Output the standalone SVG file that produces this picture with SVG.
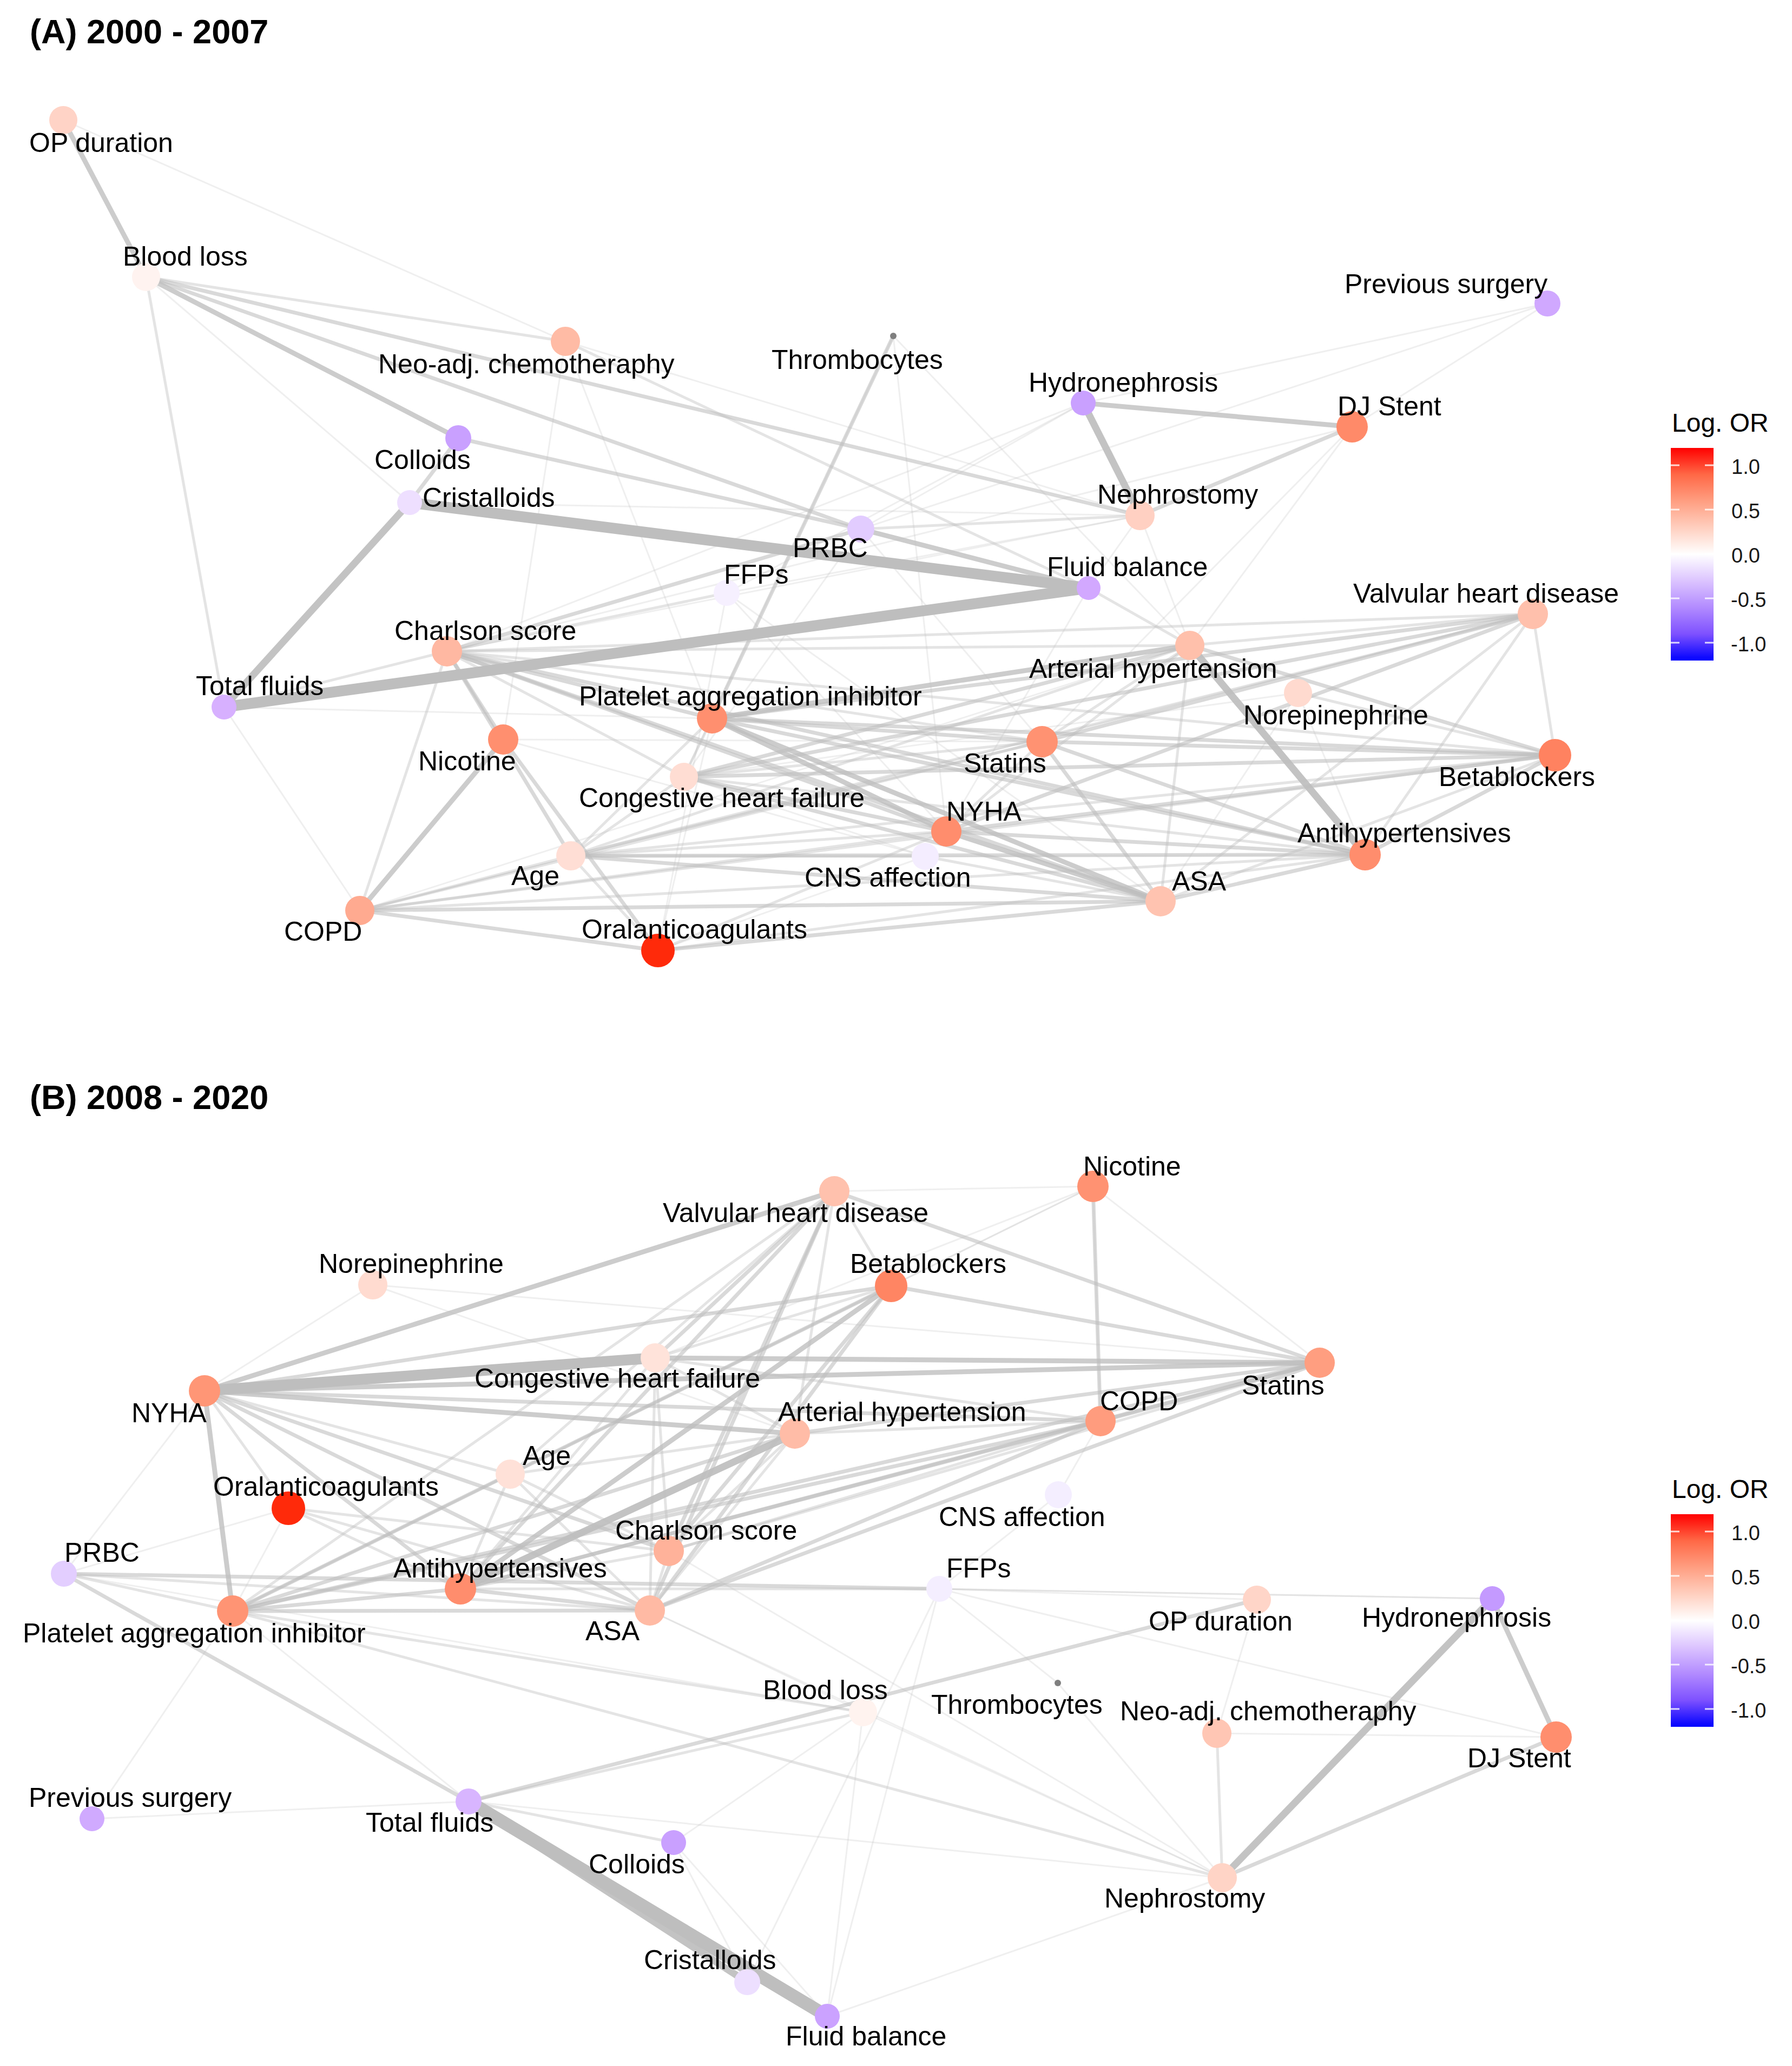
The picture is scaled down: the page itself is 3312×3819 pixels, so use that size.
<svg xmlns="http://www.w3.org/2000/svg" width="3312" height="3819" viewBox="0 0 3312 3819">
<style>
text{font-family:"Liberation Sans",Arial,sans-serif;fill:#000}
.lbl{font-size:50px}
.ttl{font-size:63px;font-weight:bold}
.lgt{font-size:48px}
.tick{font-size:38px;fill:#1a1a1a}
line{stroke:#BEBEBE;fill:none}
.e1{stroke-opacity:.24;stroke-width:3}
.e2{stroke-opacity:.42;stroke-width:5}
.e3{stroke-opacity:.58;stroke-width:7}
.e4{stroke-opacity:.78;stroke-width:9}
.e5{stroke-opacity:.92;stroke-width:13}
.e6{stroke-opacity:1;stroke-width:20}
.e7{stroke-opacity:1;stroke-width:24}
.tk{stroke:#fff;stroke-width:3;stroke-opacity:.8}
</style>
<defs>
<linearGradient id="cbar" x1="0" y1="0" x2="0" y2="1">
<stop offset="0" stop-color="#FF0000"/>
<stop offset="0.125" stop-color="#FF6846"/>
<stop offset="0.25" stop-color="#FF9E81"/>
<stop offset="0.375" stop-color="#FFCFBF"/>
<stop offset="0.5" stop-color="#FFFFFF"/>
<stop offset="0.625" stop-color="#DCC4FF"/>
<stop offset="0.75" stop-color="#B28BFF"/>
<stop offset="0.875" stop-color="#7E51FF"/>
<stop offset="1" stop-color="#0000FF"/>
</linearGradient>
</defs>
<rect width="3312" height="3819" fill="#fff"/>

<text class="ttl" x="55" y="80">(A) 2000 - 2007</text>
<g id="a-edges">
<g class="e1">
<line x1="117" y1="222" x2="1045" y2="631"/>
<line x1="270" y1="512" x2="757" y2="929"/>
<line x1="1045" y1="631" x2="930" y2="1367"/>
<line x1="1045" y1="631" x2="1316" y2="1328"/>
<line x1="1045" y1="631" x2="2107" y2="953"/>
<line x1="414" y1="1307" x2="665" y2="1683"/>
<line x1="414" y1="1307" x2="1316" y2="1328"/>
<line x1="1651" y1="621" x2="1264" y2="1436"/>
<line x1="1651" y1="621" x2="1749" y2="1537"/>
<line x1="1651" y1="621" x2="2199" y2="1193"/>
<line x1="2860" y1="561" x2="2499" y2="789"/>
<line x1="2860" y1="561" x2="2002" y2="745"/>
<line x1="2499" y1="789" x2="1926" y2="1371"/>
<line x1="2499" y1="789" x2="826" y2="1204"/>
<line x1="2002" y1="745" x2="1591" y2="978"/>
<line x1="2002" y1="745" x2="1343" y2="1096"/>
<line x1="2107" y1="953" x2="757" y2="929"/>
<line x1="2107" y1="953" x2="826" y2="1204"/>
<line x1="2012" y1="1087" x2="1749" y2="1537"/>
<line x1="1343" y1="1096" x2="1749" y2="1537"/>
<line x1="1343" y1="1096" x2="2145" y2="1666"/>
<line x1="1591" y1="978" x2="1264" y2="1436"/>
<line x1="1591" y1="978" x2="1926" y2="1371"/>
<line x1="930" y1="1367" x2="1926" y2="1371"/>
<line x1="930" y1="1367" x2="1710" y2="1583"/>
<line x1="1316" y1="1328" x2="1216" y2="1757"/>
<line x1="2199" y1="1193" x2="665" y2="1683"/>
<line x1="2399" y1="1281" x2="2523" y2="1580"/>
<line x1="2399" y1="1281" x2="2145" y2="1666"/>
<line x1="2399" y1="1281" x2="1264" y2="1436"/>
<line x1="2833" y1="1135" x2="665" y2="1683"/>
<line x1="1710" y1="1583" x2="1216" y2="1757"/>
<line x1="1710" y1="1583" x2="1264" y2="1436"/>
<line x1="1710" y1="1583" x2="2523" y2="1580"/>
<line x1="1343" y1="1096" x2="1216" y2="1757"/>
<line x1="2107" y1="953" x2="1343" y2="1096"/>
<line x1="2002" y1="745" x2="826" y2="1204"/>
<line x1="2107" y1="953" x2="2012" y2="1087"/>
<line x1="2107" y1="953" x2="2199" y2="1193"/>
<line x1="2499" y1="789" x2="2199" y2="1193"/>
<line x1="2860" y1="561" x2="1591" y2="978"/>
</g>
<g class="e2">
<line x1="270" y1="512" x2="1045" y2="631"/>
<line x1="270" y1="512" x2="414" y2="1307"/>
<line x1="1045" y1="631" x2="2012" y2="1087"/>
<line x1="414" y1="1307" x2="826" y2="1204"/>
<line x1="2107" y1="953" x2="1591" y2="978"/>
<line x1="2012" y1="1087" x2="2199" y2="1193"/>
<line x1="826" y1="1204" x2="1343" y2="1096"/>
<line x1="826" y1="1204" x2="1264" y2="1436"/>
<line x1="826" y1="1204" x2="665" y2="1683"/>
<line x1="826" y1="1204" x2="1926" y2="1371"/>
<line x1="826" y1="1204" x2="2833" y2="1135"/>
<line x1="826" y1="1204" x2="2874" y2="1396"/>
<line x1="826" y1="1204" x2="2199" y2="1193"/>
<line x1="1316" y1="1328" x2="1264" y2="1436"/>
<line x1="1316" y1="1328" x2="1055" y2="1582"/>
<line x1="1264" y1="1436" x2="1926" y2="1371"/>
<line x1="1264" y1="1436" x2="1055" y2="1582"/>
<line x1="1264" y1="1436" x2="2523" y2="1580"/>
<line x1="1926" y1="1371" x2="1749" y2="1537"/>
<line x1="1926" y1="1371" x2="1055" y2="1582"/>
<line x1="1926" y1="1371" x2="2199" y2="1193"/>
<line x1="1926" y1="1371" x2="665" y2="1683"/>
<line x1="2199" y1="1193" x2="1749" y2="1537"/>
<line x1="2199" y1="1193" x2="2833" y2="1135"/>
<line x1="2199" y1="1193" x2="2145" y2="1666"/>
<line x1="2199" y1="1193" x2="1055" y2="1582"/>
<line x1="2399" y1="1281" x2="2874" y2="1396"/>
<line x1="2833" y1="1135" x2="2874" y2="1396"/>
<line x1="2833" y1="1135" x2="2523" y2="1580"/>
<line x1="2833" y1="1135" x2="2145" y2="1666"/>
<line x1="2833" y1="1135" x2="1055" y2="1582"/>
<line x1="2874" y1="1396" x2="2145" y2="1666"/>
<line x1="2874" y1="1396" x2="1055" y2="1582"/>
<line x1="2874" y1="1396" x2="665" y2="1683"/>
<line x1="1749" y1="1537" x2="1055" y2="1582"/>
<line x1="1749" y1="1537" x2="665" y2="1683"/>
<line x1="1749" y1="1537" x2="1216" y2="1757"/>
<line x1="2523" y1="1580" x2="1216" y2="1757"/>
<line x1="2523" y1="1580" x2="665" y2="1683"/>
<line x1="1055" y1="1582" x2="665" y2="1683"/>
<line x1="1055" y1="1582" x2="1216" y2="1757"/>
<line x1="1055" y1="1582" x2="1710" y2="1583"/>
<line x1="1710" y1="1583" x2="2145" y2="1666"/>
</g>
<g class="e3">
<line x1="270" y1="512" x2="1591" y2="978"/>
<line x1="270" y1="512" x2="2107" y2="953"/>
<line x1="847" y1="810" x2="757" y2="929"/>
<line x1="847" y1="810" x2="1591" y2="978"/>
<line x1="1651" y1="621" x2="1316" y2="1328"/>
<line x1="2107" y1="953" x2="2499" y2="789"/>
<line x1="826" y1="1204" x2="1591" y2="978"/>
<line x1="826" y1="1204" x2="1316" y2="1328"/>
<line x1="826" y1="1204" x2="1749" y2="1537"/>
<line x1="826" y1="1204" x2="930" y2="1367"/>
<line x1="826" y1="1204" x2="1055" y2="1582"/>
<line x1="826" y1="1204" x2="2145" y2="1666"/>
<line x1="826" y1="1204" x2="2523" y2="1580"/>
<line x1="930" y1="1367" x2="1216" y2="1757"/>
<line x1="1316" y1="1328" x2="2523" y2="1580"/>
<line x1="1316" y1="1328" x2="2874" y2="1396"/>
<line x1="1316" y1="1328" x2="1926" y2="1371"/>
<line x1="1316" y1="1328" x2="2833" y2="1135"/>
<line x1="1264" y1="1436" x2="2199" y2="1193"/>
<line x1="1264" y1="1436" x2="2874" y2="1396"/>
<line x1="1264" y1="1436" x2="2833" y2="1135"/>
<line x1="1264" y1="1436" x2="1749" y2="1537"/>
<line x1="1264" y1="1436" x2="2145" y2="1666"/>
<line x1="1926" y1="1371" x2="2874" y2="1396"/>
<line x1="1926" y1="1371" x2="2145" y2="1666"/>
<line x1="1926" y1="1371" x2="2523" y2="1580"/>
<line x1="1926" y1="1371" x2="2833" y2="1135"/>
<line x1="2199" y1="1193" x2="2874" y2="1396"/>
<line x1="2833" y1="1135" x2="1749" y2="1537"/>
<line x1="2874" y1="1396" x2="2523" y2="1580"/>
<line x1="2874" y1="1396" x2="1749" y2="1537"/>
<line x1="1749" y1="1537" x2="2523" y2="1580"/>
<line x1="2523" y1="1580" x2="2145" y2="1666"/>
<line x1="2523" y1="1580" x2="1055" y2="1582"/>
<line x1="1055" y1="1582" x2="2145" y2="1666"/>
<line x1="665" y1="1683" x2="2145" y2="1666"/>
<line x1="665" y1="1683" x2="1216" y2="1757"/>
<line x1="1216" y1="1757" x2="2145" y2="1666"/>
</g>
<g class="e4">
<line x1="117" y1="222" x2="270" y2="512"/>
<line x1="270" y1="512" x2="847" y2="810"/>
<line x1="2002" y1="745" x2="2499" y2="789"/>
<line x1="1591" y1="978" x2="2012" y2="1087"/>
<line x1="930" y1="1367" x2="665" y2="1683"/>
<line x1="1316" y1="1328" x2="1749" y2="1537"/>
<line x1="1316" y1="1328" x2="2145" y2="1666"/>
<line x1="1316" y1="1328" x2="2199" y2="1193"/>
<line x1="1749" y1="1537" x2="2145" y2="1666"/>
</g>
<g class="e5">
<line x1="757" y1="929" x2="414" y2="1307"/>
<line x1="2002" y1="745" x2="2107" y2="953"/>
<line x1="2199" y1="1193" x2="2523" y2="1580"/>
</g>
<g class="e6">
<line x1="757" y1="929" x2="2012" y2="1087"/>
<line x1="414" y1="1307" x2="2012" y2="1087"/>
</g>
</g>

<g id="a-nodes">
<g id="a-opd"><circle cx="117" cy="222" r="26" fill="#FFD3C6"/><text class="lbl" x="54" y="281">OP duration</text></g>
<g id="a-bl"><circle cx="270" cy="512" r="26" fill="#FFF3F0"/><text class="lbl" x="227" y="491">Blood loss</text></g>
<g id="a-neo"><circle cx="1045" cy="631" r="27" fill="#FFBBA5"/><text class="lbl" x="699" y="690">Neo-adj. chemotheraphy</text></g>
<g id="a-thr"><circle cx="1651" cy="621" r="6" fill="#7F7F7F"/><text class="lbl" x="1426" y="682">Thrombocytes</text></g>
<g id="a-ps"><circle cx="2860" cy="561" r="24" fill="#D0A8FF"/><text class="lbl" x="2485" y="542">Previous surgery</text></g>
<g id="a-hyd"><circle cx="2002" cy="745" r="23" fill="#C9A0FF"/><text class="lbl" x="1901" y="724">Hydronephrosis</text></g>
<g id="a-dj"><circle cx="2499" cy="789" r="29" fill="#FF8A69"/><text class="lbl" x="2472" y="768">DJ Stent</text></g>
<g id="a-col"><circle cx="847" cy="810" r="24" fill="#C9A0FF"/><text class="lbl" x="692" y="867">Colloids</text></g>
<g id="a-cri"><circle cx="757" cy="929" r="23" fill="#EEDFFF"/><text class="lbl" x="781" y="937">Cristalloids</text></g>
<g id="a-neph"><circle cx="2107" cy="953" r="27" fill="#FFD0C2"/><text class="lbl" x="2028" y="931">Nephrostomy</text></g>
<g id="a-prbc"><circle cx="1591" cy="978" r="25" fill="#E2CCFF"/><text class="lbl" x="1465" y="1030">PRBC</text></g>
<g id="a-ffp"><circle cx="1343" cy="1096" r="24" fill="#F6F0FF"/><text class="lbl" x="1338" y="1079">FFPs</text></g>
<g id="a-fb"><circle cx="2012" cy="1087" r="22" fill="#D2A8FF"/><text class="lbl" x="1935" y="1065">Fluid balance</text></g>
<g id="a-val"><circle cx="2833" cy="1135" r="28" fill="#FFC0AC"/><text class="lbl" x="2501" y="1114">Valvular heart disease</text></g>
<g id="a-cha"><circle cx="826" cy="1204" r="28" fill="#FFB8A2"/><text class="lbl" x="729" y="1183">Charlson score</text></g>
<g id="a-art"><circle cx="2199" cy="1193" r="27" fill="#FFC0AB"/><text class="lbl" x="1902" y="1253">Arterial hypertension</text></g>
<g id="a-tf"><circle cx="414" cy="1307" r="23" fill="#D7B0FF"/><text class="lbl" x="362" y="1285">Total fluids</text></g>
<g id="a-nor"><circle cx="2399" cy="1281" r="26" fill="#FFDACF"/><text class="lbl" x="2298" y="1339">Norepinephrine</text></g>
<g id="a-pla"><circle cx="1316" cy="1328" r="28" fill="#FF8F6F"/><text class="lbl" x="1070" y="1304">Platelet aggregation inhibitor</text></g>
<g id="a-nic"><circle cx="930" cy="1367" r="28" fill="#FF8F6F"/><text class="lbl" x="773" y="1424">Nicotine</text></g>
<g id="a-sta"><circle cx="1926" cy="1371" r="29" fill="#FF9272"/><text class="lbl" x="1781" y="1428">Statins</text></g>
<g id="a-bet"><circle cx="2874" cy="1396" r="30" fill="#FF8260"/><text class="lbl" x="2659" y="1453">Betablockers</text></g>
<g id="a-chf"><circle cx="1264" cy="1436" r="26" fill="#FFDDD3"/><text class="lbl" x="1070" y="1492">Congestive heart failure</text></g>
<g id="a-nyha"><circle cx="1749" cy="1537" r="28" fill="#FF8D6D"/><text class="lbl" x="1749" y="1517">NYHA</text></g>
<g id="a-ant"><circle cx="2523" cy="1580" r="29" fill="#FF8D6D"/><text class="lbl" x="2398" y="1557">Antihypertensives</text></g>
<g id="a-age"><circle cx="1055" cy="1582" r="27" fill="#FFDED5"/><text class="lbl" x="945" y="1636">Age</text></g>
<g id="a-cns"><circle cx="1710" cy="1583" r="25" fill="#F4EDFF"/><text class="lbl" x="1487" y="1639">CNS affection</text></g>
<g id="a-asa"><circle cx="2145" cy="1666" r="28" fill="#FFC3B0"/><text class="lbl" x="2166" y="1646">ASA</text></g>
<g id="a-copd"><circle cx="665" cy="1683" r="27" fill="#FFAA90"/><text class="lbl" x="525" y="1739">COPD</text></g>
<g id="a-oral"><circle cx="1216" cy="1757" r="31" fill="#FF2A0A"/><text class="lbl" x="1075" y="1735">Oralanticoagulants</text></g>
</g>

<g id="a-legend">
<text class="lgt" x="3090" y="798">Log. OR</text>
<rect x="3088" y="828" width="79" height="393" fill="url(#cbar)"/>
<line class="tk" x1="3088" y1="860" x2="3104" y2="860"/><line class="tk" x1="3151" y1="860" x2="3167" y2="860"/>
<line class="tk" x1="3088" y1="942" x2="3104" y2="942"/><line class="tk" x1="3151" y1="942" x2="3167" y2="942"/>
<line class="tk" x1="3088" y1="1024" x2="3104" y2="1024"/><line class="tk" x1="3151" y1="1024" x2="3167" y2="1024"/>
<line class="tk" x1="3088" y1="1106" x2="3104" y2="1106"/><line class="tk" x1="3151" y1="1106" x2="3167" y2="1106"/>
<line class="tk" x1="3088" y1="1188" x2="3104" y2="1188"/><line class="tk" x1="3151" y1="1188" x2="3167" y2="1188"/>
<text class="tick" x="3200" y="876">1.0</text>
<text class="tick" x="3200" y="958">0.5</text>
<text class="tick" x="3200" y="1040">0.0</text>
<text class="tick" x="3199" y="1122">-0.5</text>
<text class="tick" x="3199" y="1204">-1.0</text>
</g>

<text class="ttl" x="55" y="2050">(B) 2008 - 2020</text>
<g id="b-edges">
<g class="e1">
<line x1="378" y1="2571" x2="689" y2="2375"/>
<line x1="378" y1="2571" x2="118" y2="2909"/>
<line x1="1542" y1="2202" x2="2020" y2="2193"/>
<line x1="1647" y1="2377" x2="2020" y2="2193"/>
<line x1="2020" y1="2193" x2="1211" y2="2510"/>
<line x1="2020" y1="2193" x2="2439" y2="2519"/>
<line x1="2020" y1="2193" x2="430" y2="2978"/>
<line x1="118" y1="2909" x2="533" y2="2788"/>
<line x1="118" y1="2909" x2="1595" y2="3165"/>
<line x1="430" y1="2978" x2="866" y2="3330"/>
<line x1="1201" y1="2977" x2="2259" y2="3471"/>
<line x1="1201" y1="2977" x2="1595" y2="3165"/>
<line x1="866" y1="3330" x2="170" y2="3362"/>
<line x1="866" y1="3330" x2="2259" y2="3471"/>
<line x1="1245" y1="3406" x2="1381" y2="3664"/>
<line x1="1245" y1="3406" x2="1595" y2="3165"/>
<line x1="1245" y1="3406" x2="1529" y2="3727"/>
<line x1="1529" y1="3727" x2="1595" y2="3165"/>
<line x1="1529" y1="3727" x2="1736" y2="2937"/>
<line x1="1529" y1="3727" x2="2259" y2="3471"/>
<line x1="1381" y1="3664" x2="1736" y2="2937"/>
<line x1="2249" y1="3204" x2="2876" y2="3211"/>
<line x1="2249" y1="3204" x2="2323" y2="2957"/>
<line x1="2323" y1="2957" x2="1736" y2="2937"/>
<line x1="1955" y1="3111" x2="1736" y2="2937"/>
<line x1="1955" y1="3111" x2="2259" y2="3471"/>
<line x1="1956" y1="2763" x2="1736" y2="2937"/>
<line x1="1956" y1="2763" x2="2034" y2="2627"/>
<line x1="1595" y1="3165" x2="2259" y2="3471"/>
<line x1="1236" y1="2867" x2="2259" y2="3471"/>
<line x1="170" y1="3362" x2="430" y2="2978"/>
<line x1="2758" y1="2955" x2="1736" y2="2937"/>
<line x1="2876" y1="3211" x2="1736" y2="2937"/>
<line x1="533" y1="2788" x2="430" y2="2978"/>
<line x1="689" y1="2375" x2="2439" y2="2519"/>
<line x1="689" y1="2375" x2="1469" y2="2650"/>
<line x1="2020" y1="2193" x2="2034" y2="2627"/>
<line x1="1736" y1="2937" x2="2758" y2="2955"/>
</g>
<g class="e2">
<line x1="378" y1="2571" x2="533" y2="2788"/>
<line x1="378" y1="2571" x2="943" y2="2725"/>
<line x1="1542" y1="2202" x2="1469" y2="2650"/>
<line x1="1542" y1="2202" x2="1647" y2="2377"/>
<line x1="1542" y1="2202" x2="430" y2="2978"/>
<line x1="1542" y1="2202" x2="943" y2="2725"/>
<line x1="1647" y1="2377" x2="1211" y2="2510"/>
<line x1="1647" y1="2377" x2="943" y2="2725"/>
<line x1="1211" y1="2510" x2="1236" y2="2867"/>
<line x1="1211" y1="2510" x2="1201" y2="2977"/>
<line x1="1211" y1="2510" x2="1469" y2="2650"/>
<line x1="1211" y1="2510" x2="2034" y2="2627"/>
<line x1="1211" y1="2510" x2="851" y2="2937"/>
<line x1="2439" y1="2519" x2="1236" y2="2867"/>
<line x1="1469" y1="2650" x2="943" y2="2725"/>
<line x1="1469" y1="2650" x2="1201" y2="2977"/>
<line x1="1469" y1="2650" x2="1236" y2="2867"/>
<line x1="2034" y1="2627" x2="1236" y2="2867"/>
<line x1="2034" y1="2627" x2="1469" y2="2650"/>
<line x1="943" y1="2725" x2="851" y2="2937"/>
<line x1="943" y1="2725" x2="430" y2="2978"/>
<line x1="943" y1="2725" x2="1201" y2="2977"/>
<line x1="943" y1="2725" x2="1236" y2="2867"/>
<line x1="533" y1="2788" x2="1236" y2="2867"/>
<line x1="533" y1="2788" x2="1201" y2="2977"/>
<line x1="533" y1="2788" x2="851" y2="2937"/>
<line x1="851" y1="2937" x2="1236" y2="2867"/>
<line x1="1236" y1="2867" x2="1201" y2="2977"/>
<line x1="118" y1="2909" x2="1201" y2="2977"/>
<line x1="118" y1="2909" x2="430" y2="2978"/>
<line x1="430" y1="2978" x2="1595" y2="3165"/>
<line x1="851" y1="2937" x2="1736" y2="2937"/>
<line x1="866" y1="3330" x2="1595" y2="3165"/>
<line x1="866" y1="3330" x2="1245" y2="3406"/>
<line x1="2259" y1="3471" x2="2249" y2="3204"/>
<line x1="430" y1="2978" x2="2259" y2="3471"/>
</g>
<g class="e3">
<line x1="378" y1="2571" x2="2034" y2="2627"/>
<line x1="378" y1="2571" x2="1647" y2="2377"/>
<line x1="378" y1="2571" x2="851" y2="2937"/>
<line x1="378" y1="2571" x2="1236" y2="2867"/>
<line x1="378" y1="2571" x2="1201" y2="2977"/>
<line x1="1542" y1="2202" x2="1211" y2="2510"/>
<line x1="1542" y1="2202" x2="1236" y2="2867"/>
<line x1="1542" y1="2202" x2="851" y2="2937"/>
<line x1="1542" y1="2202" x2="1201" y2="2977"/>
<line x1="1542" y1="2202" x2="2439" y2="2519"/>
<line x1="1647" y1="2377" x2="2439" y2="2519"/>
<line x1="1647" y1="2377" x2="430" y2="2978"/>
<line x1="1647" y1="2377" x2="1236" y2="2867"/>
<line x1="1647" y1="2377" x2="1201" y2="2977"/>
<line x1="2020" y1="2193" x2="2034" y2="2627"/>
<line x1="2439" y1="2519" x2="2034" y2="2627"/>
<line x1="2439" y1="2519" x2="1469" y2="2650"/>
<line x1="2439" y1="2519" x2="851" y2="2937"/>
<line x1="2439" y1="2519" x2="1201" y2="2977"/>
<line x1="2439" y1="2519" x2="430" y2="2978"/>
<line x1="1469" y1="2650" x2="430" y2="2978"/>
<line x1="2034" y1="2627" x2="430" y2="2978"/>
<line x1="2034" y1="2627" x2="851" y2="2937"/>
<line x1="2034" y1="2627" x2="1201" y2="2977"/>
<line x1="851" y1="2937" x2="1201" y2="2977"/>
<line x1="851" y1="2937" x2="430" y2="2978"/>
<line x1="430" y1="2978" x2="1201" y2="2977"/>
<line x1="118" y1="2909" x2="1736" y2="2937"/>
<line x1="118" y1="2909" x2="866" y2="3330"/>
<line x1="866" y1="3330" x2="2323" y2="2957"/>
<line x1="2259" y1="3471" x2="2876" y2="3211"/>
</g>
<g class="e4">
<line x1="378" y1="2571" x2="1542" y2="2202"/>
<line x1="378" y1="2571" x2="2439" y2="2519"/>
<line x1="378" y1="2571" x2="1469" y2="2650"/>
<line x1="378" y1="2571" x2="430" y2="2978"/>
<line x1="1647" y1="2377" x2="851" y2="2937"/>
<line x1="1211" y1="2510" x2="2439" y2="2519"/>
<line x1="2758" y1="2955" x2="2876" y2="3211"/>
</g>
<g class="e5">
<line x1="1469" y1="2650" x2="851" y2="2937"/>
<line x1="866" y1="3330" x2="1381" y2="3664"/>
<line x1="2758" y1="2955" x2="2259" y2="3471"/>
</g>
<g class="e6">
<line x1="378" y1="2571" x2="1211" y2="2510"/>
</g>
<g class="e7">
<line x1="866" y1="3330" x2="1529" y2="3727"/>
</g>
</g>

<g id="b-nodes">
<g id="b-val"><circle cx="1542" cy="2202" r="28" fill="#FFC1AD"/><text class="lbl" x="1225" y="2259">Valvular heart disease</text></g>
<g id="b-nic"><circle cx="2020" cy="2193" r="29" fill="#FF9272"/><text class="lbl" x="2002" y="2173">Nicotine</text></g>
<g id="b-nor"><circle cx="689" cy="2375" r="27" fill="#FFDBD0"/><text class="lbl" x="589" y="2353">Norepinephrine</text></g>
<g id="b-bet"><circle cx="1647" cy="2377" r="30" fill="#FF8563"/><text class="lbl" x="1571" y="2353">Betablockers</text></g>
<g id="b-chf"><circle cx="1211" cy="2510" r="27" fill="#FFE3DA"/><text class="lbl" x="877" y="2565">Congestive heart failure</text></g>
<g id="b-sta"><circle cx="2439" cy="2519" r="28" fill="#FF9E80"/><text class="lbl" x="2295" y="2578">Statins</text></g>
<g id="b-nyha"><circle cx="378" cy="2571" r="29" fill="#FF9676"/><text class="lbl" x="243" y="2629">NYHA</text></g>
<g id="b-copd"><circle cx="2034" cy="2627" r="28" fill="#FF9C7E"/><text class="lbl" x="2033" y="2607">COPD</text></g>
<g id="b-art"><circle cx="1469" cy="2650" r="28" fill="#FFBCA7"/><text class="lbl" x="1438" y="2627">Arterial hypertension</text></g>
<g id="b-age"><circle cx="943" cy="2725" r="27" fill="#FFE1D8"/><text class="lbl" x="966" y="2708">Age</text></g>
<g id="b-cns"><circle cx="1956" cy="2763" r="25" fill="#F4EEFF"/><text class="lbl" x="1735" y="2821">CNS affection</text></g>
<g id="b-oral"><circle cx="533" cy="2788" r="31" fill="#FF2A0A"/><text class="lbl" x="394" y="2765">Oralanticoagulants</text></g>
<g id="b-cha"><circle cx="1236" cy="2867" r="28" fill="#FFB29A"/><text class="lbl" x="1137" y="2846">Charlson score</text></g>
<g id="b-prbc"><circle cx="118" cy="2909" r="24" fill="#E3CEFF"/><text class="lbl" x="119" y="2887">PRBC</text></g>
<g id="b-ant"><circle cx="851" cy="2937" r="29" fill="#FF8D6D"/><text class="lbl" x="727" y="2916">Antihypertensives</text></g>
<g id="b-ffp"><circle cx="1736" cy="2937" r="24" fill="#F4EEFF"/><text class="lbl" x="1749" y="2916">FFPs</text></g>
<g id="b-pla"><circle cx="430" cy="2978" r="29" fill="#FF9474"/><text class="lbl" x="42" y="3036">Platelet aggregation inhibitor</text></g>
<g id="b-asa"><circle cx="1201" cy="2977" r="28" fill="#FFBAA4"/><text class="lbl" x="1082" y="3032">ASA</text></g>
<g id="b-opd"><circle cx="2323" cy="2957" r="26" fill="#FFD5C8"/><text class="lbl" x="2123" y="3014">OP duration</text></g>
<g id="b-hyd"><circle cx="2758" cy="2955" r="23" fill="#C49AFF"/><text class="lbl" x="2517" y="3007">Hydronephrosis</text></g>
<g id="b-bl"><circle cx="1595" cy="3165" r="26" fill="#FFF3EF"/><text class="lbl" x="1410" y="3141">Blood loss</text></g>
<g id="b-thr"><circle cx="1955" cy="3111" r="6" fill="#7F7F7F"/><text class="lbl" x="1721" y="3168">Thrombocytes</text></g>
<g id="b-neo"><circle cx="2249" cy="3204" r="27" fill="#FFC6B4"/><text class="lbl" x="2070" y="3180">Neo-adj. chemotheraphy</text></g>
<g id="b-dj"><circle cx="2876" cy="3211" r="29" fill="#FF8E6E"/><text class="lbl" x="2712" y="3267">DJ Stent</text></g>
<g id="b-ps"><circle cx="170" cy="3362" r="23" fill="#D0AAFF"/><text class="lbl" x="53" y="3340">Previous surgery</text></g>
<g id="b-tf"><circle cx="866" cy="3330" r="24" fill="#D8B5FF"/><text class="lbl" x="676" y="3386">Total fluids</text></g>
<g id="b-col"><circle cx="1245" cy="3406" r="23" fill="#C9A0FF"/><text class="lbl" x="1088" y="3463">Colloids</text></g>
<g id="b-neph"><circle cx="2259" cy="3471" r="27" fill="#FFD4C6"/><text class="lbl" x="2041" y="3526">Nephrostomy</text></g>
<g id="b-cri"><circle cx="1381" cy="3664" r="24" fill="#EDDFFF"/><text class="lbl" x="1190" y="3640">Cristalloids</text></g>
<g id="b-fb"><circle cx="1529" cy="3727" r="23" fill="#CBA2FF"/><text class="lbl" x="1452" y="3781">Fluid balance</text></g>
</g>

<g id="b-legend">
<text class="lgt" x="3090" y="2769">Log. OR</text>
<rect x="3088" y="2799" width="79" height="393" fill="url(#cbar)"/>
<line class="tk" x1="3088" y1="2831" x2="3104" y2="2831"/><line class="tk" x1="3151" y1="2831" x2="3167" y2="2831"/>
<line class="tk" x1="3088" y1="2913" x2="3104" y2="2913"/><line class="tk" x1="3151" y1="2913" x2="3167" y2="2913"/>
<line class="tk" x1="3088" y1="2995" x2="3104" y2="2995"/><line class="tk" x1="3151" y1="2995" x2="3167" y2="2995"/>
<line class="tk" x1="3088" y1="3077" x2="3104" y2="3077"/><line class="tk" x1="3151" y1="3077" x2="3167" y2="3077"/>
<line class="tk" x1="3088" y1="3159" x2="3104" y2="3159"/><line class="tk" x1="3151" y1="3159" x2="3167" y2="3159"/>
<text class="tick" x="3200" y="2847">1.0</text>
<text class="tick" x="3200" y="2929">0.5</text>
<text class="tick" x="3200" y="3011">0.0</text>
<text class="tick" x="3199" y="3093">-0.5</text>
<text class="tick" x="3199" y="3175">-1.0</text>
</g>
</svg>
